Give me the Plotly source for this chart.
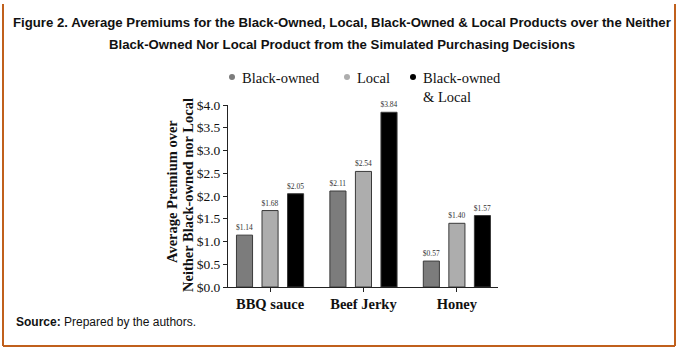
import plotly.graph_objects as go

categories = ["BBQ sauce", "Beef Jerky", "Honey"]
series_names = ["Black-owned", "Local", "Black-owned & Local"]
black_owned = [1.14, 2.11, 0.57]
local = [1.68, 2.54, 1.40]
black_owned_local = [2.05, 3.84, 1.57]
y_tick_vals = [0.0, 0.5, 1.0, 1.5, 2.0, 2.5, 3.0, 3.5, 4.0]
y_tick_text = ["$0.0", "$0.5", "$1.0", "$1.5", "$2.0", "$2.5", "$3.0", "$3.5", "$4.0"]

W, H = 683, 351
L, R, T, B = 228, 498, 105, 287  # plot area in pixels

def px(x):
    return (x - L) / (R - L)

def py(y):
    return (B - y) / (B - T)

colors = ["#7c7c7c", "#adadad", "#000000"]
serif = "Liberation Serif, Times New Roman, serif"
sans = "Liberation Sans, Arial, sans-serif"

fig = go.Figure()
for name, vals, col in zip(series_names, [black_owned, local, black_owned_local], colors):
    fig.add_trace(go.Bar(
        x=categories, y=vals, name=name,
        marker=dict(color=col, line=dict(color="#3a3a3a", width=1)),
        text=[f"${v:.2f}" for v in vals], textposition="outside",
        outsidetextfont=dict(family=serif, size=7.5, color="#333"),
        constraintext="none", cliponaxis=False, showlegend=False,
    ))

fig.update_layout(
    width=W, height=H,
    margin=dict(l=L, r=W - R, t=T, b=H - B),
    paper_bgcolor="white", plot_bgcolor="white",
    barmode="group", bargap=0.18, bargroupgap=0.37,
    showlegend=False,
    xaxis=dict(range=[-0.45, 2.44], showline=True, linecolor="#222", linewidth=1,
               ticks="outside", ticklen=4, tickcolor="#222",
               tickfont=dict(family=serif, size=14.5, color="#111"),
               tickprefix="<b>", ticksuffix="</b>", showgrid=False, zeroline=False),
    yaxis=dict(range=[0, 4], showline=True, linecolor="#222", linewidth=1,
               ticks="outside", ticklen=4, tickcolor="#222",
               tickvals=y_tick_vals, ticktext=y_tick_text,
               tickfont=dict(family=serif, size=13.5, color="#111"),
               showgrid=False, zeroline=False),
)

ann = []
# Title
ann.append(dict(text="<b>Figure 2. Average Premiums for the Black-Owned, Local, Black-Owned &amp; Local Products over the Neither</b>",
                x=px(342), y=py(22), xref="paper", yref="paper", showarrow=False,
                font=dict(family=sans, size=13.2, color="#111"), xanchor="center", yanchor="middle"))
ann.append(dict(text="<b>Black-Owned Nor Local Product from the Simulated Purchasing Decisions</b>",
                x=px(342), y=py(44), xref="paper", yref="paper", showarrow=False,
                font=dict(family=sans, size=13.2, color="#111"), xanchor="center", yanchor="middle"))
# Source
ann.append(dict(text="<b>Source:</b> Prepared by the authors.",
                x=px(14), y=py(322), xref="paper", yref="paper", showarrow=False,
                font=dict(family=sans, size=12, color="#111"), xanchor="left", yanchor="middle"))
# Y axis title
ann.append(dict(text="<b>Average Premium over</b>", x=px(172), y=py(192), xref="paper", yref="paper",
                showarrow=False, textangle=-90, font=dict(family=serif, size=14.5, color="#111"),
                xanchor="center", yanchor="middle"))
ann.append(dict(text="<b>Neither Black-owned nor Local</b>", x=px(188), y=py(195), xref="paper", yref="paper",
                showarrow=False, textangle=-90, font=dict(family=serif, size=14.5, color="#111"),
                xanchor="center", yanchor="middle"))
# Legend
legend_marker_x = [232, 347, 413]
legend_labels = ["Black-owned", "Local", "Black-owned<br>&amp; Local"]
shapes = []
for mx, lab, col in zip(legend_marker_x, legend_labels, colors):
    r = 3
    shapes.append(dict(type="circle", xref="paper", yref="paper",
                       x0=px(mx - r), x1=px(mx + r), y0=py(77 + r), y1=py(77 - r),
                       fillcolor=col, line=dict(width=0)))
    ann.append(dict(text=lab, x=px(mx + 8), y=py(68), xref="paper", yref="paper", showarrow=False,
                    font=dict(family=serif, size=14.5, color="#111"), xanchor="left", yanchor="top",
                    align="left"))
# Border (left, right, bottom)
bc = "#c0601c"
for x0, y0, x1, y1 in [(3, 4, 3, 346), (675, 4, 675, 346), (3, 346, 675, 346)]:
    shapes.append(dict(type="line", xref="paper", yref="paper", x0=px(x0), x1=px(x1), y0=py(y0), y1=py(y1),
                       line=dict(color=bc, width=2)))

fig.update_layout(annotations=ann, shapes=shapes)
fig.write_html("out.html")
